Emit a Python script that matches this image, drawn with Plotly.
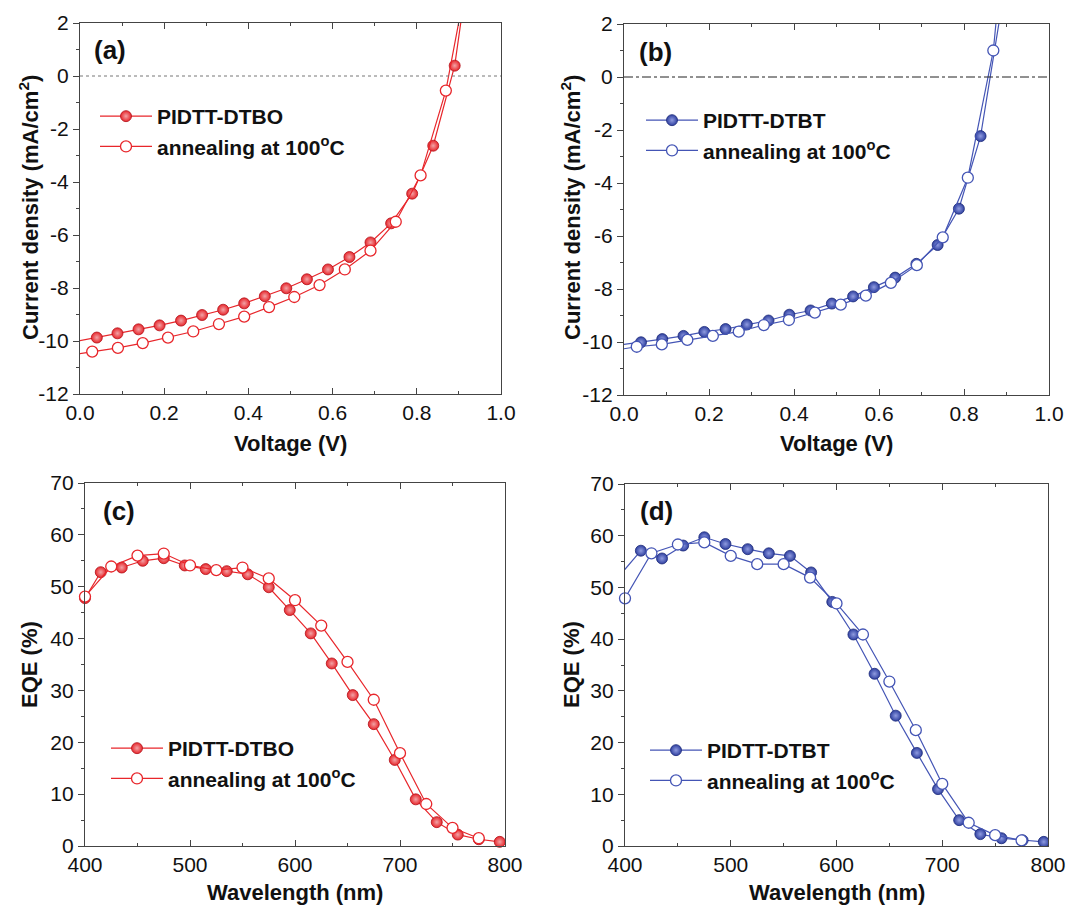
import plotly.graph_objects as go

# ---------------- data ----------------
# (a) J-V, PIDTT-DTBO
a_v_pristine = [-0.02, 0.040, 0.089, 0.139, 0.189, 0.240, 0.290, 0.340, 0.390, 0.439, 0.490,
                0.539, 0.589, 0.640, 0.690, 0.739, 0.789, 0.839, 0.890, 0.94]
a_j_pristine = [-10.05, -9.87, -9.71, -9.56, -9.41, -9.23, -9.02, -8.82, -8.58, -8.31, -8.01,
                -7.67, -7.30, -6.83, -6.28, -5.56, -4.44, -2.63, 0.39, 6.0]
a_v_anneal = [-0.03, 0.029, 0.090, 0.149, 0.209, 0.269, 0.330, 0.390, 0.449, 0.509, 0.569,
              0.629, 0.690, 0.750, 0.809, 0.869, 0.929]
a_j_anneal = [-10.55, -10.40, -10.26, -10.08, -9.87, -9.64, -9.36, -9.08, -8.72, -8.34, -7.89,
              -7.30, -6.59, -5.50, -3.75, -0.55, 4.5]

# (b) J-V, PIDTT-DTBT
b_v_pristine = [-0.02, 0.040, 0.090, 0.140, 0.189, 0.239, 0.289, 0.340, 0.389, 0.439, 0.489,
                0.539, 0.588, 0.638, 0.688, 0.738, 0.788, 0.839, 0.889]
b_j_pristine = [-10.13, -10.01, -9.89, -9.77, -9.62, -9.51, -9.34, -9.19, -8.97, -8.81, -8.55,
                -8.28, -7.93, -7.57, -7.05, -6.34, -4.97, -2.23, 2.7]
b_v_anneal = [-0.03, 0.030, 0.089, 0.149, 0.209, 0.270, 0.329, 0.388, 0.449, 0.510, 0.569,
              0.628, 0.689, 0.750, 0.809, 0.869, 0.929]
b_j_anneal = [-10.33, -10.18, -10.09, -9.92, -9.77, -9.61, -9.36, -9.17, -8.89, -8.59, -8.25,
              -7.77, -7.10, -6.05, -3.80, 1.00, 11.0]

# (c) EQE, PIDTT-DTBO
c_wl_pristine = [400, 415, 435, 455, 475, 495, 515, 535, 555, 575, 595, 615, 635, 655, 675,
                 695, 715, 735, 755, 775, 795]
c_eqe_pristine = [47.8, 52.8, 53.7, 55.0, 55.5, 54.1, 53.4, 53.0, 52.4, 49.9, 45.5, 41.0, 35.2,
                  29.1, 23.5, 16.6, 9.0, 4.6, 2.2, 1.3, 0.8]
c_wl_anneal = [400, 425, 450, 475, 500, 525, 550, 575, 600, 625, 650, 675, 700, 725, 750, 775]
c_eqe_anneal = [48.1, 53.9, 56.0, 56.4, 54.1, 53.2, 53.7, 51.6, 47.4, 42.5, 35.5, 28.2, 17.9,
                8.1, 3.5, 1.5]

# (d) EQE, PIDTT-DTBT
d_wl_pristine = [392, 415, 435, 455, 475, 495, 516, 536, 556, 576, 596, 616, 636, 656, 676,
                 696, 716, 736, 756, 776, 796]
d_eqe_pristine = [51.6, 57.1, 55.6, 58.1, 59.7, 58.4, 57.4, 56.6, 56.1, 52.9, 47.2, 40.9, 33.3,
                  25.2, 18.0, 11.0, 5.0, 2.3, 1.5, 1.1, 0.8]
d_wl_anneal = [400, 425, 450, 475, 500, 525, 550, 575, 600, 625, 650, 675, 700, 725, 750, 775]
d_eqe_anneal = [47.9, 56.6, 58.3, 58.7, 56.1, 54.5, 54.5, 51.9, 46.9, 40.9, 31.8, 22.4, 12.0,
                4.5, 2.1, 1.1]

# tick labels of the current-density axes (plain hyphen minus, as in the figure)
jv_tickvals = [2, 0, -2, -4, -6, -8, -10, -12]
jv_ticktext = ["2", "0", "-2", "-4", "-6", "-8", "-10", "-12"]

name_dtbo = "PIDTT-DTBO"
name_dtbt = "PIDTT-DTBT"
name_anneal = "annealing at 100<sup>o</sup>C"

# ---------------- styling ----------------
RED = "#e8262b"
RED_DARK = "#b3121a"
BLUE = "#2f40a0"
BLUE_LINE = "#4455b5"
FONT = "Liberation Sans, Arial, sans-serif"
MS = 11

fig = go.Figure()


def add_pair(xf, yf, xo, yo, name_f, color, line_color, dark, xa, ya, legend, clip_f=True, clip_o=True):
    fig.add_trace(go.Scatter(
        x=xf, y=yf, mode="lines+markers", name=name_f, legend=legend,
        xaxis=xa, yaxis=ya, cliponaxis=clip_f,
        line=dict(color=line_color, width=1.2),
        marker=dict(size=MS, color=color, line=dict(color=dark, width=0.8),
                    gradient=dict(type="radial", color="#f2a3a6" if color == RED else "#8f9be0")),
    ))
    fig.add_trace(go.Scatter(
        x=xo, y=yo, mode="lines+markers", name=name_anneal, legend=legend,
        xaxis=xa, yaxis=ya, cliponaxis=clip_o,
        line=dict(color=line_color, width=1.2),
        marker=dict(size=MS, color="white", line=dict(color=line_color, width=1.3)),
    ))


add_pair(a_v_pristine, a_j_pristine, a_v_anneal, a_j_anneal, name_dtbo, RED, RED, RED_DARK, "x", "y", "legend")
add_pair(b_v_pristine, b_j_pristine, b_v_anneal, b_j_anneal, name_dtbt, BLUE, BLUE_LINE, "#1c2a7a", "x2", "y2", "legend2")
add_pair(c_wl_pristine, c_eqe_pristine, c_wl_anneal, c_eqe_anneal, name_dtbo, RED, RED, RED_DARK, "x3", "y3", "legend3",
         clip_f=False, clip_o=False)
add_pair(d_wl_pristine, d_eqe_pristine, d_wl_anneal, d_eqe_anneal, name_dtbt, BLUE, BLUE_LINE, "#1c2a7a", "x4", "y4", "legend4",
         clip_f=True, clip_o=False)

W, H = 1067, 910


def px_x(p):
    return p / W


def px_y(p):
    return 1 - p / H


AXLINE = dict(showline=True, linecolor="#444", linewidth=1.3, showgrid=False, zeroline=False)
TICKF = dict(family=FONT, size=21, color="#111")


def xax(domain, anchor, rng, dtick, mdtick, fmt):
    return dict(domain=domain, anchor=anchor, range=rng, dtick=dtick, tick0=rng[0],
                ticks="inside", ticklen=6, tickwidth=1.2, tickcolor="#444", mirror="allticks",
                minor=dict(dtick=mdtick, ticks="inside", ticklen=3, tickcolor="#444", tickwidth=1),
                tickformat=fmt, tickfont=TICKF, **AXLINE)


def yax(domain, anchor, rng, dtick, mdtick, tv=None, tt=None):
    d = dict(domain=domain, anchor=anchor, range=rng, dtick=dtick, tick0=rng[0],
             ticks="outside", ticklen=6, tickwidth=1.2, tickcolor="#444", mirror=True,
             minor=dict(dtick=mdtick, tick0=rng[0], ticks="outside", ticklen=3, tickcolor="#444", tickwidth=1),
             tickfont=TICKF, ticklabelstandoff=0, **AXLINE)
    if tv is not None:
        d.update(tickmode="array", tickvals=tv, ticktext=tt)
    return d


def yax_right(overlay, anchor, rng, dtick, mdtick):
    return dict(overlaying=overlay, anchor=anchor, side="right", range=rng, dtick=dtick, tick0=rng[0],
                ticks="inside", ticklen=6, tickwidth=1.2, tickcolor="#444",
                minor=dict(dtick=mdtick, ticks="inside", ticklen=3, tickcolor="#444", tickwidth=1),
                showticklabels=False, showline=False, showgrid=False, zeroline=False)


dom_xa = [px_x(80), px_x(501)]
dom_ya = [px_y(394), px_y(23)]
dom_xb = [px_x(624), px_x(1049)]
dom_yb = [px_y(395), px_y(24)]
dom_xc = [px_x(85), px_x(505)]
dom_yc = [px_y(846), px_y(483)]
dom_xd = [px_x(625), px_x(1048)]
dom_yd = [px_y(846), px_y(484)]

fig.update_layout(
    width=W, height=H, template="none",
    paper_bgcolor="white", plot_bgcolor="white",
    margin=dict(l=0, r=0, t=0, b=0),
    font=dict(family=FONT, color="#111"),
    xaxis=xax(dom_xa, "y", [0, 1], 0.2, 0.1, ".1f"),
    yaxis=yax(dom_ya, "x", [-12, 2], 2, 1, jv_tickvals, jv_ticktext),
    xaxis2=xax(dom_xb, "y2", [0, 1], 0.2, 0.1, ".1f"),
    yaxis2=yax(dom_yb, "x2", [-12, 2], 2, 1, jv_tickvals, jv_ticktext),
    xaxis3=xax(dom_xc, "y3", [400, 800], 100, 50, "d"),
    yaxis3=yax(dom_yc, "x3", [0, 70], 10, 5),
    xaxis4=xax(dom_xd, "y4", [400, 800], 100, 50, "d"),
    yaxis4=yax(dom_yd, "x4", [0, 70], 10, 5),
    yaxis5=yax_right("y", "x", [-12, 2], 2, 1),
    yaxis6=yax_right("y2", "x2", [-12, 2], 2, 1),
    yaxis7=yax_right("y3", "x3", [0, 70], 10, 5),
    yaxis8=yax_right("y4", "x4", [0, 70], 10, 5),
)

LEG = dict(bgcolor="rgba(0,0,0,0)", borderwidth=0, itemwidth=52, tracegroupgap=0,
           font=dict(family=FONT, size=21, color="#111", weight="bold"),
           xanchor="left", yanchor="top", traceorder="normal")
fig.update_layout(
    legend=dict(x=px_x(95), y=px_y(96), **LEG),
    legend2=dict(x=px_x(641), y=px_y(100), **LEG),
    legend3=dict(x=px_x(106), y=px_y(728), **LEG),
    legend4=dict(x=px_x(645), y=px_y(730), **LEG),
    showlegend=True,
)

# zero lines
fig.add_shape(type="line", xref="x domain", yref="y", x0=0, x1=1, y0=0, y1=0,
              line=dict(color="#777", width=1, dash="dot"))
fig.add_shape(type="line", xref="x2 domain", yref="y2", x0=0, x1=1, y0=0, y1=0,
              line=dict(color="#222", width=1, dash="dashdot"))

# annotations: panel labels and axis titles
ann = []
for lbl, cx, cy in [("(a)", 110, 50), ("(b)", 655, 52), ("(c)", 119, 511), ("(d)", 656, 511)]:
    ann.append(dict(text=f"<b>{lbl}</b>", x=px_x(cx), y=px_y(cy), xref="paper", yref="paper",
                    showarrow=False, xanchor="center", yanchor="middle",
                    font=dict(family=FONT, size=26, color="#111")))
TF = dict(family=FONT, size=22, color="#111")
for cx in (29, 571):
    ann.append(dict(text="<b>Current density (mA/cm<sup>2</sup>)</b>", x=px_x(cx), y=px_y(208),
                    xref="paper", yref="paper", showarrow=False, textangle=-90,
                    xanchor="center", yanchor="middle", font=TF))
    ann.append(dict(text="<b>EQE (%)</b>", x=px_x(cx), y=px_y(665),
                    xref="paper", yref="paper", showarrow=False, textangle=-90,
                    xanchor="center", yanchor="middle", font=TF))
for cx in (290, 836):
    ann.append(dict(text="<b>Voltage (V)</b>", x=px_x(cx), y=px_y(443), xref="paper", yref="paper",
                    showarrow=False, xanchor="center", yanchor="middle", font=TF))
for cx in (295, 837):
    ann.append(dict(text="<b>Wavelength (nm)</b>", x=px_x(cx), y=px_y(892), xref="paper", yref="paper",
                    showarrow=False, xanchor="center", yanchor="middle", font=TF))
fig.update_layout(annotations=ann)

# remove the default page margin so the figure fills the 1067x910 window exactly
fig.write_html("out.html", config={"displayModeBar": False},
               post_script="document.body.style.margin='0';document.body.style.overflow='hidden';")
